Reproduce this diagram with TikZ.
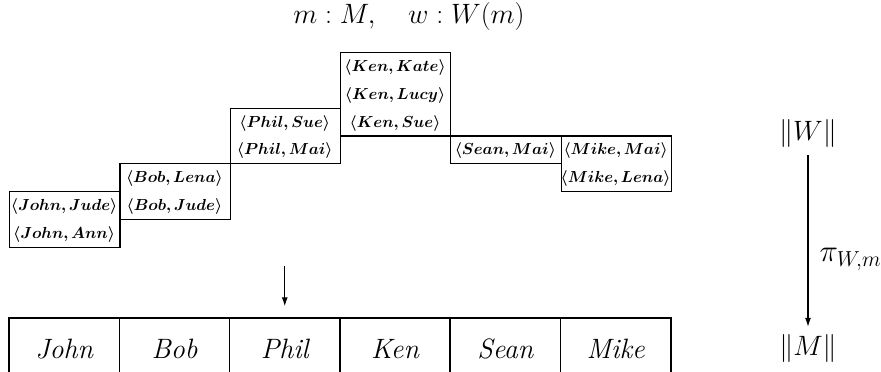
\documentclass[tikz,border=0pt]{standalone}
\usepackage{fix-cm}
\usepackage{amsmath,bm}
\usetikzlibrary{arrows.meta}
\begin{document}
\begin{tikzpicture}[x=1pt,y=-1pt,
  pbox/.style={draw, line width=1.2pt, minimum width=110.3pt, anchor=north west, inner sep=0pt},
  ptext/.style={font=\fontsize{16}{19}\selectfont, inner sep=0pt, anchor=base},
  cell/.style={draw, line width=1.5pt, minimum width=110.3pt, minimum height=60pt, inner sep=0pt, text height=20pt, text depth=0pt, font=\fontsize{28}{32}\selectfont\itshape},
  big/.style={font=\fontsize{28}{32}\selectfont, inner sep=0pt},
  arr/.style={-{Latex[length=9pt,width=6pt]}, line width=1.1pt}]
\useasboundingbox (0,0) rectangle (881,372);

% title
\node[big] (title) at (409,16.5) {$m : M,\quad w : W(m)$};

% pair boxes
\node[pbox, minimum height=83.4pt] (bken) at (339.9,52) {};
\node[ptext] (ken1) at (395.05,71.4) {$\bm{\langle Ken,Kate\rangle}$};
\node[ptext] (ken2) at (395.05,99.2) {$\bm{\langle Ken,Lucy\rangle}$};
\node[ptext] (ken3) at (395.05,127) {$\bm{\langle Ken,Sue\rangle}$};

\node[pbox, minimum height=55.6pt] (bphil) at (229.6,107.6) {};
\node[ptext] (phil1) at (284.75,127) {$\bm{\langle Phil,Sue\rangle}$};
\node[ptext] (phil2) at (284.75,154.8) {$\bm{\langle Phil,Mai\rangle}$};

\node[pbox, minimum height=27.8pt] (bsean) at (450.2,135.4) {};
\node[ptext] (sean1) at (505.35,154.8) {$\bm{\langle Sean,Mai\rangle}$};

\node[pbox, minimum height=55.6pt] (bmike) at (560.5,135.4) {};
\node[ptext] (mike1) at (615.65,154.8) {$\bm{\langle Mike,Mai\rangle}$};
\node[ptext] (mike2) at (615.65,182.6) {$\bm{\langle Mike,Lena\rangle}$};

\node[pbox, minimum height=55.6pt] (bbob) at (119.3,163.2) {};
\node[ptext] (bob1) at (174.45,182.6) {$\bm{\langle Bob,Lena\rangle}$};
\node[ptext] (bob2) at (174.45,210.4) {$\bm{\langle Bob,Jude\rangle}$};

\node[pbox, minimum height=55.6pt] (bjohn) at (9,191) {};
\node[ptext] (john1) at (64.15,210.4) {$\bm{\langle John,Jude\rangle}$};
\node[ptext] (john2) at (64.15,238.2) {$\bm{\langle John,Ann\rangle}$};

% table
\node[cell] (cjohn) at (64.15,348) {John};
\node[cell] (cbob) at (174.45,348) {Bob};
\node[cell] (cphil) at (284.75,348) {Phil};
\node[cell] (cken) at (395.05,348) {Ken};
\node[cell] (csean) at (505.35,348) {Sean};
\node[cell] (cmike) at (615.65,348) {Mike};

% arrow into table
\coordinate (ptop) at (284.75,266);
\draw[arr, shorten >=11pt] (ptop) -- (cphil.north);

% right side
\node[big] (nW) at (808,133) {$\|W\|$};
\node[big] (nM) at (808,348) {$\|M\|$};
\draw[arr, shorten <=8pt, shorten >=7pt] (nW.south) -- (nM.north)
  node[pos=0.6, right=11pt, inner sep=0pt, font=\fontsize{31}{35}\selectfont] (pi) {$\pi_{W,m}$};
\end{tikzpicture}
\end{document}
